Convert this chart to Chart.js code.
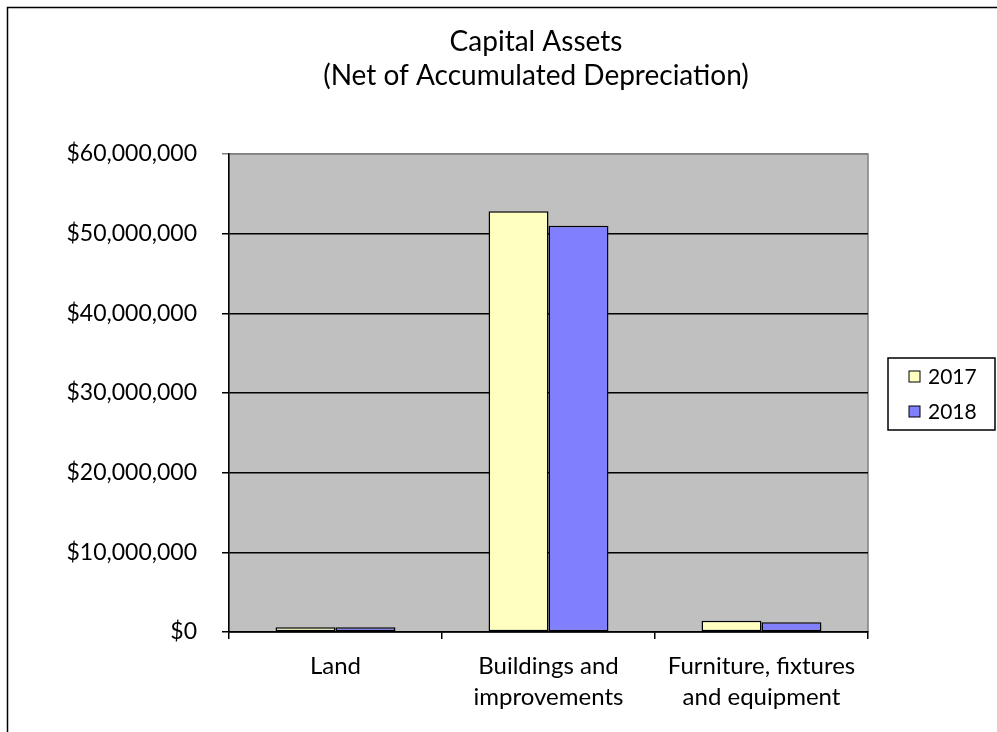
<!DOCTYPE html>
<html>
<head>
<meta charset="utf-8">
<script src="https://cdn.jsdelivr.net/npm/chart.js@4.4.1/dist/chart.umd.min.js"></script>
<style>
  html, body { margin: 0; padding: 0; background: #fff; }
  #wrap { position: relative; width: 997px; height: 732px; }
</style>
</head>
<body>
<div id="wrap"><canvas id="chart" width="997" height="732"></canvas></div>
<script>
// data
const categories = [['Land'], ['Buildings and', 'improvements'], ['Furniture, fixtures', 'and equipment']];
const seriesNames = ['2017', '2018'];
const values2017 = [600000, 52800000, 1420000];
const values2018 = [600000, 51000000, 1220000];
const yTickValues = [0, 10000000, 20000000, 30000000, 40000000, 50000000, 60000000];
const titleLines = ['Capital Assets', '(Net of Accumulated Depreciation)'];

const colors = ['#FFFFC0', '#8080FF'];
const FONT = "Lato, 'Open Sans', sans-serif";

const money = v => '$' + Number(v).toLocaleString('en-US');

// grey plot area + outer frame
const plotBg = {
	id: 'plotBg',
	beforeDraw(chart) {
		const { ctx, chartArea: a } = chart;
		ctx.save();
		ctx.fillStyle = '#fff';
		ctx.fillRect(0, 0, chart.width, chart.height);
		ctx.strokeStyle = '#000';
		ctx.lineWidth = 1.5;
		ctx.beginPath();
		ctx.moveTo(7.5, chart.height);
		ctx.lineTo(7.5, 7.5);
		ctx.lineTo(chart.width, 7.5);
		ctx.stroke();
		ctx.fillStyle = '#C0C0C0';
		ctx.fillRect(a.left, a.top, a.right - a.left, a.bottom - a.top);
		ctx.strokeStyle = '#808080';
		ctx.lineWidth = 1.5;
		ctx.strokeRect(a.left, a.top, a.right - a.left, a.bottom - a.top);
		ctx.restore();
	}
};

// two-line title, centred a bit right of the page middle like the original
const sideTitle = {
	id: 'sideTitle',
	afterDraw(chart) {
		const { ctx } = chart;
		ctx.save();
		ctx.fillStyle = '#000';
		ctx.font = '28px ' + FONT;
		ctx.textAlign = 'center';
		ctx.textBaseline = 'middle';
		titleLines.forEach((t, i) => ctx.fillText(t, 536, 42 + i * 34));
		ctx.restore();
	}
};

// legend box on the right, built from the datasets
const boxLegend = {
	id: 'boxLegend',
	afterDraw(chart) {
		const { ctx } = chart;
		const x = 888, y = 358, w = 107, h = 72;
		ctx.save();
		ctx.fillStyle = '#fff';
		ctx.fillRect(x, y, w, h);
		ctx.strokeStyle = '#000';
		ctx.lineWidth = 1.5;
		ctx.strokeRect(x, y, w, h);
		ctx.font = '21px ' + FONT;
		ctx.textBaseline = 'middle';
		chart.data.datasets.forEach((ds, i) => {
			const cy = y + 19 + i * 35;
			ctx.fillStyle = ds.backgroundColor;
			ctx.fillRect(x + 21, cy - 6, 11, 11);
			ctx.strokeStyle = '#000';
			ctx.lineWidth = 1;
			ctx.strokeRect(x + 21, cy - 6, 11, 11);
			ctx.fillStyle = '#000';
			ctx.fillText(ds.label, x + 40, cy);
		});
		ctx.restore();
	}
};

new Chart(document.getElementById('chart'), {
	type: 'bar',
	data: {
		labels: categories,
		datasets: [
			{ label: seriesNames[0], data: values2017, backgroundColor: colors[0] },
			{ label: seriesNames[1], data: values2018, backgroundColor: colors[1] }
		].map(d => ({ ...d, borderColor: '#000', borderWidth: 1.5, borderSkipped: false,
			categoryPercentage: 0.563, barPercentage: 1 }))
	},
	options: {
		responsive: false,
		devicePixelRatio: 1,
		animation: false,
		layout: { padding: { left: 0, right: 129, top: 154, bottom: 0 } },
		plugins: {
			legend: { display: false },
			tooltip: { enabled: false },
			title: { display: false }
		},
		scales: {
			x: {
				afterFit: s => { s.height = 100; },
				grid: { offset: true, drawOnChartArea: false, color: '#000', lineWidth: 1.5, tickLength: 7 },
				border: { color: '#000', width: 1.5 },
				ticks: { color: '#000', padding: 11, maxRotation: 0, autoSkip: false,
					font: { family: FONT, size: 24, lineHeight: 1.32 } }
			},
			y: {
				min: 0,
				max: 60000000,
				afterFit: s => { s.width = 229; },
				afterBuildTicks: s => { s.ticks = yTickValues.map(v => ({ value: v })); },
				grid: { color: c => c.tick && c.tick.value === 60000000 ? '#808080' : '#000',
					lineWidth: 1.5, tickLength: 7 },
				border: { color: '#000', width: 1.5 },
				ticks: { color: '#000', padding: 25, callback: v => money(v),
					font: { family: FONT, size: 23 } }
			}
		}
	},
	plugins: [plotBg, sideTitle, boxLegend]
});
</script>
</body>
</html>
